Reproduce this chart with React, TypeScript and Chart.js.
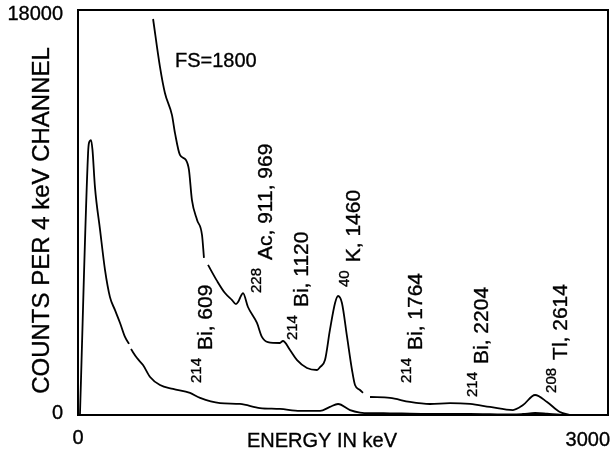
import { useEffect, useRef } from "react";
import { Chart, registerables } from "chart.js";

Chart.register(...registerables);

// ---- data ----
const xTickValues = [0, 3000];
const yTickValues = [0, 18000];

// full-scale spectrum (FS = 18000)
const lowerEnergy = [11, 57, 62, 74, 82, 96, 125, 153, 181, 209, 238, 266, 289, 294, 300, 334, 368, 408, 464, 538, 634, 691, 804, 917, 1030, 1143, 1257, 1370, 1426, 1472, 1540, 1596, 1653, 1766, 1879, 1992, 2106, 2219, 2332, 2462, 2519, 2587, 2655, 2728, 2785];
const lowerCounts = [0, 11640, 12090, 12220, 11780, 10130, 8220, 6440, 5240, 4670, 4090, 3470, 3160, null, 2930, 2530, 2220, 1690, 1330, 1160, 980, 760, 530, 490, 310, 270, 180, 180, 360, 490, 220, 110, 80, 76, 58, 49, 53, 49, 36, 22, 44, 89, 58, 13, 0];

// expanded spectrum (FS = 1800)
const upperEnergy = [425, 464, 492, 532, 549, 577, 611, 628, 645, 674, 702, 713, 724, 736, 787, 832, 872, 894, 906, 917, 934, 962, 1013, 1041, 1075, 1143, 1160, 1200, 1240, 1296, 1353, 1370, 1398, 1426, 1455, 1472, 1494, 1523, 1551, 1568, 1596, 1613, 1633, 1653, 1766, 1879, 1992, 2106, 2219, 2332, 2462, 2519, 2587, 2655, 2728, 2785];
const upperCounts = [17600, 15470, 14310, 13330, 12530, 11560, 11330, 10890, 9550, 8670, 8000, 6980, null, 6670, 5960, 5420, 5110, 4930, 5020, 5200, 5420, 4800, 4090, 3470, 3240, 3200, 3290, 2890, 2440, 2090, 2000, 2130, 2440, 3780, 4980, 5290, 4980, 3470, 2000, 1330, 1110, 980, null, 800, 760, 580, 490, 530, 490, 360, 220, 440, 890, 580, 130, 0];

// peak labels
const peakIsotopes = ["214", "228", "214", "40", "214", "214", "208"];
const peakNames = ["Bi, 609", "Ac, 911, 969", "Bi, 1120", "K, 1460", "Bi, 1764", "Bi, 2204", "Tl, 2614"];
const labelEnergy = [758, 1098, 1302, 1596, 1947, 2321, 2768];
const labelCounts = [1420, 5420, 3330, 5690, 1420, 800, 980];

const scaleNote = "FS=1800";
const scaleNoteEnergy = 549;
const scaleNoteCounts = 15470;

const xTitle = "ENERGY IN keV";
const yTitle = "COUNTS PER 4 keV CHANNEL";

const FONT = '"Liberation Sans", Arial, Helvetica, sans-serif';

function toPoints(xs: number[], ys: (number | null)[]) {
  return xs.map((x, i) => ({ x, y: ys[i] }));
}

function inkText(ctx: CanvasRenderingContext2D, t: string, x: number, y: number) {
  ctx.fillText(t, x, y);
  ctx.strokeText(t, x, y);
}

const overlay = {
  id: "overlay",
  afterDraw(chart: any) {
    const { ctx, chartArea: a, scales } = chart;
    const x = scales.x;
    const y = scales.y;
    ctx.save();
    ctx.strokeStyle = "#000";
    ctx.lineWidth = 2;
    ctx.strokeRect(a.left, a.top, a.right - a.left, a.bottom - a.top);

    ctx.fillStyle = "#000";
    ctx.lineWidth = 0.35;
    ctx.font = `20px ${FONT}`;
    // y tick labels
    ctx.textAlign = "right";
    ctx.textBaseline = "middle";
    yTickValues.forEach((v) => {
      const py = y.getPixelForValue(v) + (v === y.max ? 4 : -2);
      inkText(ctx, String(v), a.left - 15, py);
    });
    // x tick labels
    ctx.textBaseline = "alphabetic";
    xTickValues.forEach((v) => {
      const px = x.getPixelForValue(v);
      if (v === x.max) {
        ctx.textAlign = "right";
        inkText(ctx, String(v), px + 2, a.bottom + 31);
      } else {
        ctx.textAlign = "center";
        inkText(ctx, String(v), px, a.bottom + 29);
      }
    });
    // x title
    ctx.textAlign = "center";
    inkText(ctx, xTitle, (a.left + a.right) / 2 - 21, a.bottom + 32);
    // y title
    ctx.save();
    ctx.translate(a.left - 36, (a.top + a.bottom) / 2 + 8);
    ctx.rotate(-Math.PI / 2);
    ctx.font = `24px ${FONT}`;
    ctx.textAlign = "center";
    ctx.textBaseline = "middle";
    inkText(ctx, yTitle, 0, 0);
    ctx.restore();

    // FS note
    ctx.font = `20px ${FONT}`;
    ctx.textAlign = "left";
    ctx.textBaseline = "alphabetic";
    inkText(ctx, scaleNote, x.getPixelForValue(scaleNoteEnergy), y.getPixelForValue(scaleNoteCounts));

    // peak labels
    peakNames.forEach((name, i) => {
      const px = x.getPixelForValue(labelEnergy[i]);
      const py = y.getPixelForValue(labelCounts[i]);
      ctx.save();
      ctx.translate(px, py);
      ctx.rotate(-Math.PI / 2);
      ctx.textAlign = "left";
      ctx.textBaseline = "alphabetic";
      ctx.font = `15px ${FONT}`;
      inkText(ctx, peakIsotopes[i], 0, -11);
      const w = ctx.measureText(peakIsotopes[i]).width;
      ctx.font = `21px ${FONT}`;
      inkText(ctx, name, w + 8, 0);
      ctx.restore();
    });
    ctx.restore();
  },
};

export default function App() {
  const ref = useRef<HTMLCanvasElement | null>(null);
  useEffect(() => {
    if (!ref.current) return;
    const chart = new Chart(ref.current, {
      type: "line",
      data: {
        datasets: [
          {
            data: toPoints(lowerEnergy, lowerCounts) as any,
            borderColor: "#000",
            borderWidth: 1.8,
            pointRadius: 0,
            cubicInterpolationMode: "monotone",
            spanGaps: false,
          },
          {
            data: toPoints(upperEnergy, upperCounts) as any,
            borderColor: "#000",
            borderWidth: 1.8,
            pointRadius: 0,
            cubicInterpolationMode: "monotone",
            spanGaps: false,
          },
        ],
      },
      options: {
        animation: false,
        responsive: false,
        layout: { padding: { left: 78, top: 10, right: 5, bottom: 44 } },
        plugins: { legend: { display: false }, tooltip: { enabled: false } },
        scales: {
          x: { type: "linear", min: 0, max: 3000, display: false },
          y: { type: "linear", min: 0, max: 18000, display: false },
        },
      },
      plugins: [overlay],
    });
    return () => chart.destroy();
  }, []);
  return (
    <div style={{ position: "absolute", left: 0, top: 0, width: 613, height: 459, background: "#fff" }}>
      <canvas ref={ref} width={613} height={459} />
    </div>
  );
}
